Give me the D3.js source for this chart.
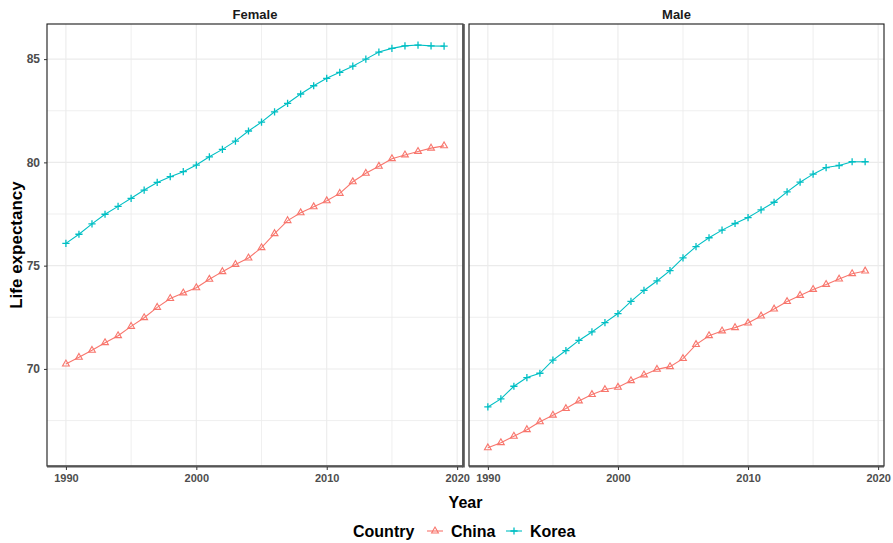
<!DOCTYPE html>
<html>
<head>
<meta charset="utf-8">
<script src="https://cdn.jsdelivr.net/npm/d3@7"></script>
<style>
  html, body { margin: 0; padding: 0; background: #fff; }
  svg text { font-family: "Liberation Sans", Arial, Helvetica, sans-serif; }
</style>
</head>
<body>
<svg id="chart" width="893" height="543"></svg>
<script>
// Life expectancy at birth, 1990-2019
const years = d3.range(1990, 2020);
const panels = ["Female", "Male"];
const countries = ["China", "Korea"];

const femaleChina = [70.24, 70.56, 70.90, 71.27, 71.61, 72.06, 72.48, 72.98, 73.41, 73.68,
  73.93, 74.34, 74.71, 75.06, 75.37, 75.87, 76.55, 77.18, 77.56, 77.85,
  78.14, 78.50, 79.06, 79.47, 79.81, 80.18, 80.36, 80.53, 80.69, 80.80];
const femaleKorea = [76.08, 76.52, 77.02, 77.49, 77.87, 78.26, 78.66, 79.03, 79.31, 79.55,
  79.87, 80.27, 80.63, 81.03, 81.52, 81.95, 82.45, 82.86, 83.31, 83.71,
  84.07, 84.36, 84.66, 85.00, 85.34, 85.52, 85.64, 85.68, 85.64, 85.63];
const maleChina = [66.18, 66.43, 66.74, 67.06, 67.44, 67.76, 68.08, 68.45, 68.76, 69.00,
  69.11, 69.43, 69.71, 69.98, 70.11, 70.50, 71.18, 71.61, 71.84, 72.00,
  72.22, 72.56, 72.90, 73.26, 73.56, 73.85, 74.09, 74.35, 74.61, 74.74];
const maleKorea = [68.16, 68.55, 69.16, 69.58, 69.79, 70.43, 70.89, 71.38, 71.79, 72.24,
  72.68, 73.27, 73.80, 74.26, 74.76, 75.38, 75.92, 76.35, 76.72, 77.04,
  77.33, 77.70, 78.07, 78.57, 79.04, 79.43, 79.75, 79.85, 80.03, 80.03];

const xTicks = [1990, 2000, 2010, 2020];
const xMinor = [1995, 2005, 2015];
const yTicks = [70, 75, 80, 85];
const yMinor = [67.5, 72.5, 77.5, 82.5];

const seriesByPanel = {
  Female: { China: femaleChina, Korea: femaleKorea },
  Male: { China: maleChina, Korea: maleKorea }
};
const colors = { China: "#F8766D", Korea: "#00BFC4" };

const svg = d3.select("#chart");
const panelTop = 24, panelBottom = 466;
const panelX = { Female: [47, 463], Male: [469, 884] };

const y = d3.scaleLinear().domain([65.3, 86.7]).range([panelBottom, panelTop]);

function drawMarker(g, country) {
  if (country === "China") {
    const s = d3.symbol().type(d3.symbolTriangle).size(20)();
    g.append("path").attr("d", s)
      .attr("fill", "none").attr("stroke", colors.China).attr("stroke-width", 1.1);
  } else {
    const h = 3.6;
    g.append("path").attr("d", `M${-h},0H${h}M0,${-h}V${h}`)
      .attr("fill", "none").attr("stroke", colors.Korea).attr("stroke-width", 1.3);
  }
}

panels.forEach(panel => {
  const [x0, x1] = panelX[panel];
  const x = d3.scaleLinear().domain([1988.55, 2020.45]).range([x0, x1]);
  const g = svg.append("g");

  // grid
  g.selectAll(".ymin").data(yMinor).join("line")
    .attr("x1", x0).attr("x2", x1).attr("y1", d => y(d)).attr("y2", d => y(d))
    .attr("stroke", "#ebebeb").attr("stroke-width", 0.8);
  g.selectAll(".xmin").data(xMinor).join("line")
    .attr("y1", panelTop).attr("y2", panelBottom).attr("x1", d => x(d)).attr("x2", d => x(d))
    .attr("stroke", "#ebebeb").attr("stroke-width", 0.8);
  g.selectAll(".ymaj").data(yTicks).join("line")
    .attr("x1", x0).attr("x2", x1).attr("y1", d => y(d)).attr("y2", d => y(d))
    .attr("stroke", "#ebebeb").attr("stroke-width", 1.1);
  g.selectAll(".xmaj").data(xTicks).join("line")
    .attr("y1", panelTop).attr("y2", panelBottom).attr("x1", d => x(d)).attr("x2", d => x(d))
    .attr("stroke", "#ebebeb").attr("stroke-width", 1.1);

  // series
  countries.forEach(c => {
    const vals = seriesByPanel[panel][c];
    const pts = years.map((yr, i) => [yr, vals[i]]);
    g.append("path").datum(pts)
      .attr("d", d3.line().x(d => x(d[0])).y(d => y(d[1])))
      .attr("fill", "none").attr("stroke", colors[c]).attr("stroke-width", 1.1);
    pts.forEach(p => {
      const m = g.append("g").attr("transform", `translate(${x(p[0])},${y(p[1])})`);
      drawMarker(m, c);
    });
  });

  // panel border
  g.append("rect").attr("x", x0).attr("y", panelTop)
    .attr("width", x1 - x0).attr("height", panelBottom - panelTop)
    .attr("fill", "none").attr("stroke", "#1a1a1a").attr("stroke-width", 1.1);
  // heavier bottom edge
  g.append("line").attr("x1", x0).attr("x2", x1)
    .attr("y1", panelBottom + 0.5).attr("y2", panelBottom + 0.5)
    .attr("stroke", "#555").attr("stroke-width", 2.2);

  // x axis
  const xa = svg.append("g").attr("transform", `translate(0,${panelBottom + 1})`)
    .call(d3.axisBottom(x).tickValues(xTicks).tickFormat(d3.format("d")).tickSize(3).tickPadding(4));
  xa.select(".domain").remove();
  xa.selectAll("line").attr("stroke", "#333");
  xa.selectAll("text").attr("fill", "#4d4d4d").attr("font-size", 11).attr("font-weight", "bold");

  // strip title
  svg.append("text").attr("x", (x0 + x1) / 2).attr("y", 19)
    .attr("text-anchor", "middle").attr("font-size", 13).attr("font-weight", "bold")
    .attr("fill", "#1a1a1a").text(panel);
});

// heavier right edge of the first panel
svg.append("line").attr("x1", panelX.Female[1] + 0.5).attr("x2", panelX.Female[1] + 0.5)
  .attr("y1", panelTop).attr("y2", panelBottom + 1.5)
  .attr("stroke", "#555").attr("stroke-width", 2.6);

// y axis (left panel only)
const ya = svg.append("g").attr("transform", `translate(${panelX.Female[0]},0)`)
  .call(d3.axisLeft(y).tickValues(yTicks).tickSize(3).tickPadding(4));
ya.select(".domain").remove();
ya.selectAll("line").attr("stroke", "#333");
ya.selectAll("text").attr("fill", "#4d4d4d").attr("font-size", 12).attr("font-weight", "bold");

// axis titles
svg.append("text").attr("x", (panelX.Female[0] + panelX.Male[1]) / 2).attr("y", 508)
  .attr("text-anchor", "middle").attr("font-size", 16).attr("font-weight", "bold")
  .attr("fill", "#000").text("Year");
svg.append("text").attr("transform", `translate(22,${(panelTop + panelBottom) / 2}) rotate(-90)`)
  .attr("text-anchor", "middle").attr("font-size", 17).attr("font-weight", "bold")
  .attr("fill", "#000").text("Life expectancy");

// legend
const legend = svg.append("g").attr("transform", "translate(0,531)");
legend.append("text").attr("x", 353).attr("y", 6).attr("font-size", 16)
  .attr("font-weight", "bold").attr("fill", "#000").text("Country");
const keyX = { China: 435, Korea: 514 };
countries.forEach(c => {
  const k = legend.append("g").attr("transform", `translate(${keyX[c]},0)`);
  k.append("line").attr("x1", -8).attr("x2", 8).attr("y1", 0).attr("y2", 0)
    .attr("stroke", colors[c]).attr("stroke-width", 1.1);
  drawMarker(k, c);
  legend.append("text").attr("x", keyX[c] + 16).attr("y", 6).attr("font-size", 16)
    .attr("font-weight", "bold").attr("fill", "#000").text(c);
});
</script>
</body>
</html>
